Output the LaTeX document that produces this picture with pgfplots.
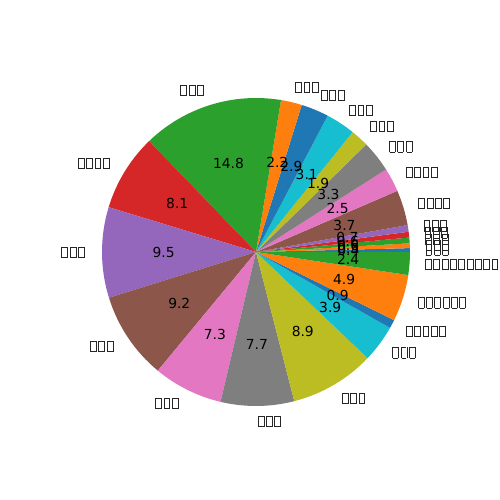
\documentclass[border=0pt]{standalone}
\usepackage{pgfplots}
\pgfplotsset{compat=1.18}
\usepackage{pgfplotstable}
\usepackage{fontspec}
\setmainfont{DejaVu Sans}

\definecolor{c0}{HTML}{1F77B4}
\definecolor{c1}{HTML}{FF7F0E}
\definecolor{c2}{HTML}{2CA02C}
\definecolor{c3}{HTML}{D62728}
\definecolor{c4}{HTML}{9467BD}
\definecolor{c5}{HTML}{8C564B}
\definecolor{c6}{HTML}{E377C2}
\definecolor{c7}{HTML}{7F7F7F}
\definecolor{c8}{HTML}{BCBD22}
\definecolor{c9}{HTML}{17BECF}

% missing-glyph boxes, as in the reference
\newcount\tofucnt
\newcommand\tofu{\hbox{\vrule width .6pt\vbox{\hrule height .6pt\hbox to 3.6pt{\vrule height 6.8pt width 0pt\hfil}\hrule height .6pt}\vrule width .6pt}\kern1.2pt}
\newcommand\tofus[1]{\begingroup\tofucnt=0 \loop\ifnum\tofucnt<#1 \tofu\advance\tofucnt by 1 \repeat\endgroup}

\pgfplotstableread{
val n
0.4 3
0.5 3
0.6 3
0.6 3
0.7 3
3.7 4
2.5 4
3.3 3
1.9 3
3.1 3
2.9 3
2.2 3
14.8 3
8.1 4
9.5 3
9.2 3
7.3 3
7.7 3
8.9 3
3.9 3
0.9 5
4.9 6
2.4 9
}\piedata

\begin{document}
\begin{tikzpicture}
\begin{axis}[hide axis, scale only axis, width=5in, height=5in,
  xmin=-1.6623, xmax=1.5844, ymin=-1.6104, ymax=1.6364, clip=false]
\path (rel axis cs:0,0) rectangle (rel axis cs:1,1);
\pgfplotstablegetrowsof{\piedata}
\pgfmathtruncatemacro\nrows{\pgfplotsretval-1}
\def\total{0}
\pgfplotsforeachungrouped \i in {0,...,\nrows}{%
  \pgfplotstablegetelem{\i}{val}\of\piedata
  \pgfmathsetmacro\total{\total+\pgfplotsretval}%
}
\def\cum{0}
\pgfplotsforeachungrouped \i in {0,...,\nrows}{%
  \pgfplotstablegetelem{\i}{val}\of\piedata \let\v\pgfplotsretval
  \pgfmathsetmacro\a{360*(\cum/\total)}%
  \pgfmathsetmacro\b{360*((\cum+\v)/\total)}%
  \pgfmathtruncatemacro\ci{mod(\i,10)}%
  \edef\temp{%
    \noexpand\fill[c\ci] (axis cs:0,0) -- (axis cs:{cos(\a)},{sin(\a)}) arc[start angle=\a, end angle=\b, radius=1.54in] -- cycle;
  }\temp
  \pgfmathsetmacro\cum{\cum+\v}%
}
\def\cum{0}
\pgfplotsforeachungrouped \i in {0,...,\nrows}{%
  \pgfplotstablegetelem{\i}{val}\of\piedata \let\v\pgfplotsretval
  \pgfplotstablegetelem{\i}{n}\of\piedata \let\nn\pgfplotsretval
  \pgfmathsetmacro\a{360*(\cum/\total)}%
  \pgfmathsetmacro\b{360*((\cum+\v)/\total)}%
  \pgfmathsetmacro\m{(\a+\b)/2}%
  \pgfmathtruncatemacro\isright{cos(\m)>0}%
  \ifnum\isright=1 \def\anc{west}\else\def\anc{east}\fi
  \pgfmathsetmacro\pct{100*(\v/\total)}%
  \edef\temp{%
    \noexpand\node[inner sep=0pt, font=\noexpand\fontsize{10}{12}\noexpand\selectfont] at (axis cs:{0.6*cos(\m)},{0.6*sin(\m)}) {\noexpand\pgfmathprintnumber[fixed, fixed zerofill, precision=1, assume math mode=true]{\pct}};
    \noexpand\node[inner sep=0pt, anchor=\anc, text=black!85] at (axis cs:{1.1*cos(\m)},{1.1*sin(\m)}) {\noexpand\tofus{\nn}};
  }\temp
  \pgfmathsetmacro\cum{\cum+\v}%
}
\end{axis}
\end{tikzpicture}
\end{document}
